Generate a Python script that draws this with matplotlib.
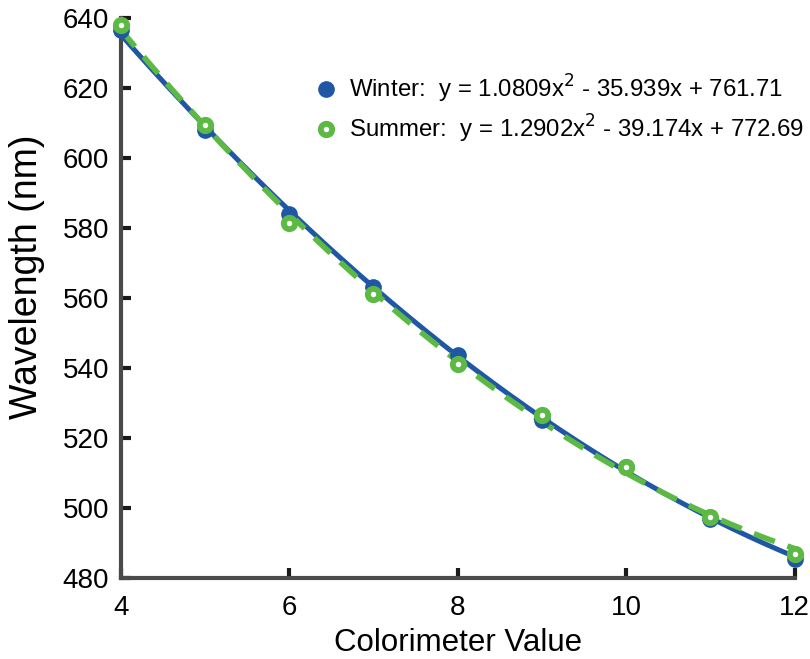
import numpy as np
import matplotlib.pyplot as plt

plt.rcParams['font.family'] = ['Liberation Sans', 'DejaVu Sans']

# colorimeter readings and measured wavelengths
colorimeter = [4, 5, 6, 7, 8, 9, 10, 11, 12]
winter_nm = [636.5, 608.0, 584.0, 563.0, 543.8, 525.2, 511.8, 496.8, 485.5]
summer_nm = [637.8, 609.3, 581.3, 561.0, 541.0, 526.6, 511.8, 497.3, 486.8]

# quadratic fit coefficients (a, b, c) for y = a x^2 + b x + c
winter_fit = [1.0809, -35.939, 761.71]
summer_fit = [1.2902, -39.174, 772.69]

blue = '#1f57a5'
green = '#5cb944'
spine_gray = '#4a4a4a'

fig = plt.figure(figsize=(8.1, 6.59), dpi=100)
ax = fig.add_axes([0.149, 0.123, 0.832, 0.850])

xs = np.linspace(4, 12, 200)
ax.plot(xs, np.polyval(winter_fit, xs), color=blue, lw=3.6, zorder=3)
ax.plot(xs, np.polyval(summer_fit, xs), color=green, lw=4,
        ls=(0, (4, 2.4)), zorder=4)

ax.plot(colorimeter, winter_nm, 'o', color=blue, ms=11, zorder=5,
        clip_on=False,
        label='Winter:  y = 1.0809x$^2$ - 35.939x + 761.71')
ax.plot(colorimeter, summer_nm, 'o', mfc='white', mec=green, mew=4.2,
        ms=8.2, zorder=6, clip_on=False,
        label='Summer:  y = 1.2902x$^2$ - 39.174x + 772.69')

ax.set_xlim(4, 12)
ax.set_ylim(480, 640)
ax.set_xticks([4, 6, 8, 10, 12])
ax.set_yticks(np.arange(480, 641, 20))

for side in ('top', 'right'):
    ax.spines[side].set_visible(False)
for side in ('left', 'bottom'):
    ax.spines[side].set_color(spine_gray)
    ax.spines[side].set_linewidth(3)

ax.tick_params(direction='in', length=7, width=3, color='#1a1a1a',
               labelsize=20)
ax.tick_params(axis='x', pad=12)
ax.tick_params(axis='y', pad=8.5)

ax.set_xlabel('Colorimeter Value', fontsize=22.5, labelpad=5)
ax.set_ylabel('Wavelength (nm)', fontsize=27)
ax.yaxis.set_label_coords(-0.113, 0.537)

ax.legend(loc='upper left', bbox_to_anchor=(0.25, 0.94), frameon=False,
          fontsize=17.3, handletextpad=0.3, labelspacing=0.3,
          handlelength=1.3)

fig.savefig('out.png', dpi=100)
